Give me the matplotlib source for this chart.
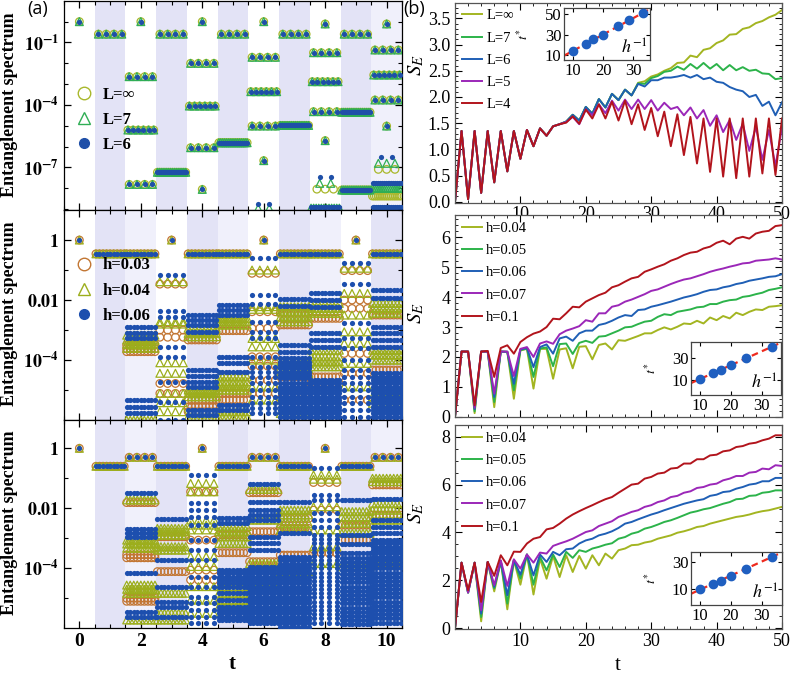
import numpy as np
import matplotlib
matplotlib.use("Agg")
import matplotlib.pyplot as plt
from matplotlib.lines import Line2D
from matplotlib.ticker import MultipleLocator, FixedLocator, NullFormatter, FormatStrFormatter

plt.rcParams['font.family'] = ['Liberation Serif', 'DejaVu Serif']
plt.rcParams['mathtext.fontset'] = 'stix'
plt.rcParams['axes.linewidth'] = 0.9

W, H = 792, 679
fig = plt.figure(figsize=(W / 100, H / 100), dpi=100)


def ax_px(x0, y0, x1, y1):
    return fig.add_axes([x0 / W, 1 - y1 / H, (x1 - x0) / W, (y1 - y0) / H])


# ------------------------------------------------------------------ data (a)
T_STEPS = list(range(11))

# panel (a) top: log10 of eigenvalue, multiplicity ; shared by all L
A1_SHARED = [
    [(0.0, 1)],
    [(-0.60, 4)],
    [(0.0, 1), (-2.64, 4), (-5.20, 6), (-7.81, 4)],
    [(-0.60, 4), (-7.23, 16)],
    [(0.0, 1), (-2.00, 4), (-4.05, 6), (-6.05, 4), (-8.05, 1)],
    [(-0.60, 4), (-5.81, 16)],
    [(0.0, 1), (-1.71, 4), (-3.36, 6), (-5.01, 4), (-6.67, 1)],
    [(-0.60, 4), (-4.98, 16)],
    [(-0.11, 1), (-1.49, 4), (-2.88, 6), (-4.32, 4), (-5.71, 1)],
    [(-0.60, 4), (-4.35, 16), (-8.08, 16)],
    [(-0.11, 1), (-1.36, 4), (-2.56, 6), (-3.76, 4), (-5.01, 1)],
]
A1_EXTRA_INF = {8: [(-8.04, 3)], 10: [(-7.09, 3), (-8.37, 16)]}
A1_EXTRA_L7 = {6: [(-8.96, 2)], 8: [(-7.76, 2), (-8.95, 12)], 10: [(-6.80, 3), (-8.00, 16)]}
A1_EXTRA_L6 = {6: [(-8.75, 2)], 8: [(-7.47, 2), (-8.88, 12)], 10: [(-6.48, 2), (-7.73, 16), (-8.91, 16)]}
A1_LABELS = ['L=∞', 'L=7', 'L=6']
A1_SHADE = 'wswswswswsl'

# panel (a) middle
A2_TOP_EXP = [0.0, -0.46, -0.46, 0.0, -0.46, -0.46, 0.0, -0.46, -0.46, 0.0, -0.46]
A2_TOP_N = [1, 9, 9, 1, 9, 9, 1, 9, 9, 1, 9]
A2_ROW_N = [4, 9, 9, 4, 9, 9, 4, 9, 9, 4, 9]
A2_H003 = [[], [], [-3.50, -3.62, -3.72],
           [-1.47, -3.00, -3.24, -4.78, -5.11],
           [-3.33, -5.33, -5.56, -5.72],
           [-3.02, -5.11, -5.33],
           [-1.11, -2.39, -2.94, -3.89, -4.20, -4.67, -5.11],
           [-2.44, -2.83, -4.56, -4.89, -5.33],
           [-2.61, -4.56, -4.78],
           [-1.02, -2.00, -2.28, -3.78, -4.44, -5.33],
           [-2.50, -4.33, -4.67]]
A2_H004 = [[], [], [-3.17, -3.33, -3.47, -3.61, -6.00],
           [-1.39, -2.72, -2.80, -4.09, -4.44, -5.11, -5.42, -5.72],
           [-2.94, -3.11, -3.22, -5.00, -5.11, -5.22, -5.89],
           [-2.61, -2.72, -2.83, -4.56, -4.72, -4.89, -5.00, -5.72, -5.89],
           [-1.00, -2.22, -2.31, -3.28, -3.56, -4.00, -4.89, -5.33],
           [-2.22, -2.39, -2.56, -2.72, -4.11, -4.28, -4.44, -5.78],
           [-2.11, -2.28, -2.44, -3.67, -3.89, -4.06, -4.22],
           [-0.94, -1.78, -2.50, -3.06, -3.44, -4.11, -4.89],
           [-2.11, -2.28, -2.44, -3.67, -3.83, -4.00, -5.22, -5.44]]
A2_H006 = [[], [], [-2.89, -3.11, -3.28, -5.33, -5.56, -5.78],
           [-1.17, -2.36, -2.56, -3.56, -3.89, -4.72, -5.39, -6.00],
           [-2.50, -2.67, -2.83, -3.06, -4.33, -4.53, -4.72, -4.89, -5.67, -5.83],
           [-2.17, -2.33, -2.50, -3.89, -4.11, -4.39, -5.50, -5.67],
           [-0.61, -1.83, -2.14, -2.72, -3.06, -3.28, -3.89, -4.22, -4.39, -4.56,
            -4.78, -5.00, -5.22, -5.44, -5.61, -5.78],
           [-1.98, -2.20, -3.50, -3.72, -3.94, -4.06, -4.17, -4.28, -4.39, -4.50,
            -4.61, -4.75, -4.89, -5.00, -5.11, -5.22, -5.33, -5.44, -5.56, -5.67,
            -5.78, -5.89],
           [-1.76, -2.00, -2.24, -3.11, -3.33, -3.56, -4.67, -4.78, -4.89, -5.00,
            -5.11, -5.22, -5.33, -5.44, -5.56, -5.67, -5.78, -5.89],
           [-0.76, -1.47, -2.78, -3.28, -3.61, -4.00, -4.33, -4.56, -4.78, -5.00,
            -5.22, -5.44, -5.67, -5.89],
           [-1.67, -1.94, -2.89, -3.11, -3.33, -3.56, -4.44, -4.56, -4.67, -4.78,
            -4.89, -5.00, -5.11, -5.22, -5.33, -5.44, -5.56, -5.67, -5.78, -5.89]]
A2_LABELS = ['h=0.03', 'h=0.04', 'h=0.06']
A2_SHADE = 'wslwslwslws'

# panel (a) bottom
A3_TOP_EXP = [0.0, -0.60, -0.30, -0.60, 0.0, -0.60, -0.30, -0.60, 0.0, -0.60, -0.30]
A3_TOP_N = [1, 9, 4, 9, 1, 9, 4, 9, 1, 9, 4]
A3_ROW_N = [4, 9, 9, 9, 4, 9, 9, 9, 4, 9, 9]
A3_H003 = [[], [], [-1.81, -3.55, -3.65, -5.00, -5.10],
           [-2.95, -4.11],
           [-1.45, -3.06, -4.06, -4.39],
           [-2.89, -3.48],
           [-1.48, -2.78, -3.78],
           [-2.34, -2.67, -3.56],
           [-1.14, -2.06, -3.50],
           [-2.56, -3.06],
           [-1.22, -2.23, -3.84]]
A3_H004 = [[], [], [-1.72, -3.06, -3.19, -3.33, -4.56, -4.70, -4.83, -5.72],
           [-2.67, -2.78, -2.89, -3.28, -3.39, -4.83, -5.50, -5.72],
           [-1.17, -1.45, -2.39, -2.56, -2.72, -3.61, -3.94, -4.61, -5.06, -5.50],
           [-2.61, -2.78, -2.94, -3.17, -4.61, -4.83, -5.06, -5.28],
           [-1.37, -2.39, -3.84, -4.56],
           [-2.06, -2.22, -2.50, -2.72, -4.11],
           [-0.89, -1.03, -1.95, -2.72, -3.28, -3.84],
           [-2.11, -2.28, -2.50, -2.83, -3.95],
           [-1.00, -1.11, -1.83, -2.06, -2.39, -3.84]]
A3_H006 = [[], [], [-1.48, -2.70, -2.83, -2.94, -4.17, -5.45, -5.61],
           [-2.37, -3.72, -4.61, -5.11, -5.28, -5.61],
           [-0.89, -1.83, -2.06, -2.28, -2.56, -3.06, -3.39, -3.72, -4.28, -4.61,
            -4.94, -5.17, -5.39, -5.61, -5.83],
           [-2.33, -2.50, -4.06, -4.17, -4.28, -4.39, -4.50, -4.61, -4.83, -5.06,
            -5.28, -5.39, -5.50, -5.61, -5.72],
           [-1.19, -1.78, -2.06, -2.22, -2.39, -2.94, -3.17, -3.39, -3.95, -4.06,
            -4.17, -4.28, -4.39, -4.50, -4.61, -4.72, -4.83, -4.94, -5.06, -5.17,
            -5.28, -5.39, -5.50, -5.61, -5.72, -5.83],
           [-1.78, -2.83, -3.61, -3.72, -3.84, -3.95, -4.06, -4.17, -4.28, -4.39,
            -4.50, -4.61, -4.72, -4.83, -4.94, -5.06, -5.17, -5.28, -5.39, -5.50,
            -5.61, -5.72, -5.83, -5.94],
           [-0.67, -1.56, -1.72, -2.17, -2.39, -2.61, -2.89, -3.03, -3.17, -3.31,
            -3.45, -3.58, -3.72, -3.86, -4.00, -4.14, -4.28, -4.42, -4.56, -4.70,
            -4.83, -4.97, -5.11, -5.25, -5.39, -5.53, -5.67, -5.81],
           [-1.72, -2.90, -3.20, -3.50, -3.64, -3.78, -3.92, -4.06, -4.20, -4.33,
            -4.47, -4.61, -4.75, -4.89, -5.03, -5.17, -5.31, -5.45, -5.59, -5.72,
            -5.86],
           [-1.70, -2.39, -2.61, -2.83, -3.06, -3.17, -3.28, -3.39, -3.50, -3.61,
            -3.72, -3.86, -4.00, -4.14, -4.28, -4.42, -4.56, -4.70, -4.83, -4.97,
            -5.11, -5.25, -5.39, -5.53, -5.67, -5.81]]
A3_SHADE = 'wslswslswsl'

# ------------------------------------------------------------------ data (b)
T_B = list(range(51))
B1_BASE = [0, 1.35, 0.05, 1.35, 0.17, 1.35, 0.37, 1.35, 0.58, 1.35, 0.82, 1.37, 1.06,
           1.40, 1.26, 1.44, 1.48]
B1_L4 = B1_BASE + [1.51, 1.63, 1.49, 1.76, 1.59, 1.86, 1.59, 1.91, 1.55, 1.93, 1.48, 1.86,
                   1.37, 1.79, 1.25, 1.72, 1.06, 1.67, 0.89, 1.62, 0.73, 1.59, 0.57, 1.59,
                   0.48, 1.59, 0.45, 1.59, 0.48, 1.59, 0.54, 1.59, 0.51, 1.59]
B1_L5 = B1_BASE + [1.52, 1.62, 1.48, 1.76, 1.65, 1.86, 1.69, 1.93, 1.74, 1.95, 1.77, 1.95,
                   1.77, 1.94, 1.74, 1.89, 1.77, 1.81, 1.65, 1.80, 1.59, 1.75, 1.45, 1.65,
                   1.33, 1.56, 1.18, 1.49, 0.97, 1.43, 0.80, 1.37, 0.68, 1.42]
B1_L6 = B1_BASE + [1.53, 1.66, 1.55, 1.81, 1.68, 1.96, 1.80, 2.06, 1.94, 2.14, 2.03, 2.25,
                   2.20, 2.32, 2.32, 2.37, 2.37, 2.39, 2.42, 2.37, 2.42, 2.34, 2.37, 2.29,
                   2.27, 2.19, 2.14, 2.11, 2.00, 2.04, 1.83, 1.91, 1.65, 1.90]
B1_L7 = B1_L6[:28] + [2.26, 2.25, 2.36, 2.40, 2.48, 2.50, 2.58, 2.52, 2.63, 2.54, 2.65,
                      2.54, 2.63, 2.51, 2.61, 2.51, 2.57, 2.50, 2.52, 2.45, 2.44, 2.34, 2.36]
B1_LINF = B1_L6[:28] + [2.27, 2.30, 2.39, 2.43, 2.50, 2.55, 2.65, 2.66, 2.79, 2.76, 2.90,
                        2.93, 3.03, 3.08, 3.19, 3.20, 3.30, 3.33, 3.41, 3.45, 3.52, 3.57, 3.66]
B1_LABELS = ['L=∞', 'L=7', 'L=6', 'L=5', 'L=4']

B2_H04 = [0, 2.18, 2.18, 0.12, 2.18, 2.18, 0.32, 2.18, 2.17, 0.60, 2.22, 2.27, 0.94, 2.27,
          2.27, 1.27, 2.25, 2.29, 1.62, 2.34, 2.36, 1.92, 2.40, 2.45, 2.25, 2.56, 2.54, 2.62,
          2.70, 2.79, 2.79, 2.90, 2.99, 2.92, 3.01, 3.12, 3.10, 3.21, 3.12, 3.32, 3.23, 3.37,
          3.29, 3.48, 3.40, 3.51, 3.59, 3.57, 3.68, 3.70, 3.73]
B2_H05 = [0, 2.18, 2.18, 0.18, 2.18, 2.18, 0.49, 2.18, 2.17, 0.88, 2.23, 2.28, 1.33, 2.28,
          2.32, 1.69, 2.43, 2.45, 2.10, 2.47, 2.54, 2.47, 2.68, 2.70, 2.79, 2.88, 2.99, 3.01,
          3.10, 3.18, 3.21, 3.34, 3.43, 3.40, 3.51, 3.55, 3.59, 3.66, 3.68, 3.77, 3.77, 3.85,
          3.90, 3.92, 4.01, 4.04, 4.10, 4.15, 4.24, 4.28, 4.33]
B2_H06 = [0, 2.18, 2.18, 0.25, 2.18, 2.18, 0.66, 2.18, 2.17, 1.10, 2.25, 2.30, 1.66, 2.33,
          2.42, 2.11, 2.62, 2.68, 2.54, 2.79, 2.88, 2.88, 3.07, 3.12, 3.21, 3.32, 3.40, 3.37,
          3.57, 3.59, 3.68, 3.73, 3.79, 3.85, 3.92, 3.99, 4.04, 4.10, 4.18, 4.24, 4.26, 4.33,
          4.37, 4.44, 4.48, 4.55, 4.59, 4.63, 4.68, 4.70, 4.77]
B2_H07 = [0, 2.18, 2.18, 0.30, 2.18, 2.18, 0.77, 2.18, 2.18, 1.36, 2.27, 2.33, 2.00, 2.45,
          2.52, 2.44, 2.76, 2.88, 2.95, 3.03, 3.23, 3.18, 3.46, 3.46, 3.68, 3.73, 3.85, 3.92,
          4.01, 4.10, 4.21, 4.26, 4.35, 4.44, 4.52, 4.59, 4.63, 4.70, 4.77, 4.85, 4.91, 4.96,
          5.02, 5.07, 5.13, 5.15, 5.22, 5.24, 5.26, 5.30, 5.26]
B2_H10 = [0, 2.18, 2.18, 0.38, 2.18, 2.20, 1.33, 2.30, 2.39, 2.11, 2.50, 2.66, 2.78, 2.85,
          3.00, 3.28, 3.26, 3.46, 3.68, 3.66, 3.85, 3.96, 4.07, 4.15, 4.33, 4.40, 4.52, 4.63,
          4.68, 4.85, 4.93, 5.02, 5.10, 5.22, 5.30, 5.41, 5.49, 5.52, 5.63, 5.69, 5.82, 5.89,
          5.77, 5.96, 6.02, 5.96, 6.13, 6.19, 6.22, 6.38, 6.41]

B3_H04 = [0, 2.74, 1.49, 2.74, 0.29, 2.77, 1.54, 2.80, 0.79, 2.84, 1.82, 3.08, 1.41, 2.91,
          2.07, 3.02, 2.14, 3.05, 2.35, 3.02, 2.49, 3.05, 2.63, 3.12, 2.91, 3.26, 3.33, 3.47,
          3.49, 3.58, 3.63, 3.74, 3.81, 3.88, 3.99, 4.05, 4.13, 4.23, 4.27, 4.37, 4.44, 4.51,
          4.58, 4.65, 4.69, 4.75, 4.83, 4.89, 4.93, 5.00, 5.07]
B3_H05 = [0, 2.74, 1.49, 2.74, 0.47, 2.77, 1.66, 2.80, 1.03, 2.84, 2.07, 3.08, 1.82, 2.98,
          2.42, 3.08, 2.56, 3.19, 2.94, 3.26, 3.19, 3.33, 3.40, 3.49, 3.55, 3.74, 3.81, 3.95,
          4.02, 4.16, 4.23, 4.33, 4.44, 4.51, 4.61, 4.72, 4.83, 4.89, 4.97, 5.02, 5.11, 5.20,
          5.27, 5.39, 5.41, 5.53, 5.55, 5.66, 5.69, 5.76, 5.76]
B3_H06 = [0, 2.74, 1.49, 2.74, 0.61, 2.77, 1.73, 2.80, 1.38, 2.84, 2.24, 3.08, 2.21, 3.08,
          2.77, 3.19, 3.05, 3.30, 3.33, 3.54, 3.67, 3.74, 3.88, 3.95, 4.05, 4.19, 4.37, 4.44,
          4.55, 4.65, 4.75, 4.83, 4.93, 5.02, 5.11, 5.20, 5.27, 5.34, 5.39, 5.53, 5.58, 5.69,
          5.72, 5.83, 5.90, 6.00, 6.04, 6.14, 6.14, 6.28, 6.28]
B3_H07 = [0, 2.74, 1.49, 2.74, 0.75, 2.77, 1.80, 2.84, 1.77, 2.88, 2.49, 3.08, 2.74, 3.16,
          3.12, 3.44, 3.54, 3.63, 3.74, 3.88, 4.02, 4.09, 4.27, 4.37, 4.47, 4.65, 4.75, 4.86,
          4.93, 5.07, 5.14, 5.27, 5.34, 5.48, 5.53, 5.66, 5.72, 5.86, 5.90, 6.00, 6.04, 6.18,
          6.25, 6.36, 6.36, 6.50, 6.53, 6.67, 6.64, 6.81, 6.78]
B3_H10 = [0, 2.74, 1.59, 2.74, 1.10, 2.77, 2.19, 3.05, 2.63, 3.20, 3.19, 3.54, 3.74, 3.81,
          4.13, 4.19, 4.37, 4.58, 4.75, 4.89, 5.02, 5.14, 5.27, 5.39, 5.48, 5.66, 5.83, 6.00,
          6.04, 6.25, 6.32, 6.46, 6.50, 6.67, 6.70, 6.88, 6.88, 7.06, 7.06, 7.22, 7.25, 7.39,
          7.43, 7.57, 7.61, 7.71, 7.75, 7.85, 7.92, 8.06, 8.06]
B_H_LABELS = ['h=0.04', 'h=0.05', 'h=0.06', 'h=0.07', 'h=0.1']

# insets: h^-1 vs t*
INS1_X = [10, 14.3, 16.7, 20, 25, 28.6, 33.3]
INS1_Y = [14, 21, 25.5, 30.3, 38.9, 44, 51]
INS2_X = [10, 14.3, 16.7, 20, 25, 33.3]
INS2_Y = [10.6, 16, 19, 23.5, 30, 39.3]
INS3_X = [10, 14.3, 16.7, 20, 25, 33.3]
INS3_Y = [10.0, 13.9, 16.3, 19.9, 24.7, 33.6]

# ------------------------------------------------------------------ styles
C_SHADE = {'w': None, 's': '#e3e3f6', 'l': '#f0f0fb'}
A1_COL = ['#a9b82c', '#2fae55', '#1f4fa8']
A23_COL = ['#c27633', '#9cae1c', '#1d4fae']
B_COL = ['#a3b521', '#2cb34a', '#1f5fb5', '#9b27b8', '#b2141c']


def spread(t, n):
    if n == 1:
        return [t]
    if n <= 3:
        w = 0.09 * n
    elif n == 4:
        w = 0.38
    elif n <= 6:
        w = 0.42
    else:
        w = 0.46
    return list(t + np.linspace(-w, w, n))


def collect(rows_by_t):
    xs, ys = [], []
    for t, rows in zip(T_STEPS, rows_by_t):
        for e, n in rows:
            px = spread(t, n)
            xs += px
            ys += [10.0 ** e] * len(px)
    return xs, ys


def rows_for(top_e, top_n, row_n, series):
    return [[(top_e[t], top_n[t])] + [(e, row_n[t]) for e in series[t]] for t in T_STEPS]


def draw_series(ax, rows_by_t, kind, color):
    xs, ys = collect(rows_by_t)
    if kind == 'c':
        ax.scatter(xs, ys, marker='o', s=30, facecolors='none', edgecolors=color,
                   linewidths=0.9, zorder=3)
    elif kind == 't':
        ax.scatter(xs, ys, marker='^', s=32, facecolors='none', edgecolors=color,
                   linewidths=0.9, zorder=4)
    else:
        ax.scatter(xs, ys, marker='o', s=14, c=color, linewidths=0, zorder=5)


def setup_left(ax, shade, ylim, majors, labels, xlabels):
    for t, s in zip(T_STEPS, shade):
        if C_SHADE[s]:
            ax.axvspan(t - 0.5, t + 0.5, color=C_SHADE[s], lw=0, zorder=0)
    ax.set_xlim(-0.5, 10.5)
    ax.set_yscale('log')
    ax.set_ylim(*ylim)
    ax.xaxis.set_major_locator(FixedLocator([0, 2, 4, 6, 8, 10]))
    ax.xaxis.set_minor_locator(MultipleLocator(0.5))
    ax.yaxis.set_major_locator(FixedLocator(majors))
    ax.yaxis.set_minor_locator(FixedLocator([10.0 ** k for k in range(-10, 2)]))
    ax.yaxis.set_minor_formatter(NullFormatter())
    ax.set_yticklabels(labels)
    ax.tick_params(which='both', direction='in', top=True, right=True)
    ax.tick_params(which='major', length=5, width=0.9)
    ax.tick_params(which='minor', length=3, width=0.8)
    ax.tick_params(axis='y', labelsize=13)
    if xlabels:
        ax.set_xticklabels(['0', '2', '4', '6', '8', '10'], fontsize=14, fontweight='bold')
    else:
        ax.tick_params(axis='x', labelbottom=False)
    for lab in ax.get_yticklabels():
        lab.set_fontweight('bold')


# ------------------------------------------------------------------ panel (a)
axA1 = ax_px(64, 1, 402, 210)
setup_left(axA1, A1_SHADE, (10 ** -9.04, 10 ** 0.99), [1e-1, 1e-4, 1e-7],
           [r'$\mathbf{10^{-1}}$', r'$\mathbf{10^{-4}}$', r'$\mathbf{10^{-7}}$'], False)
for extra, kind, col in [(A1_EXTRA_INF, 'c', A1_COL[0]), (A1_EXTRA_L7, 't', A1_COL[1]),
                         (A1_EXTRA_L6, 'd', A1_COL[2])]:
    rows = [A1_SHARED[t] + extra.get(t, []) for t in T_STEPS]
    draw_series(axA1, rows, kind, col)
h1 = [Line2D([], [], ls='none', marker='o', mfc='none', mec=A1_COL[0], ms=9, mew=1.0),
      Line2D([], [], ls='none', marker='^', mfc='none', mec=A1_COL[1], ms=9, mew=1.0),
      Line2D([], [], ls='none', marker='o', color=A1_COL[2], ms=7)]
axA1.legend(h1, A1_LABELS, loc='center left', bbox_to_anchor=(0.0, 0.43), frameon=False,
            prop=dict(weight='bold', size=12), handletextpad=0.5, labelspacing=0.55,
            borderaxespad=0.2, handlelength=1.2)

axA2 = ax_px(64, 210, 402, 419.5)
setup_left(axA2, A2_SHADE, (10 ** -5.98, 10 ** 1.0), [1, 1e-2, 1e-4, 1e-6],
           [r'$\mathbf{1}$', r'$\mathbf{0.01}$', r'$\mathbf{10^{-4}}$', r'$\mathbf{10^{-6}}$'],
           False)
for ser, kind, col in [(A2_H003, 'c', A23_COL[0]), (A2_H004, 't', A23_COL[1]),
                       (A2_H006, 'd', A23_COL[2])]:
    draw_series(axA2, rows_for(A2_TOP_EXP, A2_TOP_N, A2_ROW_N, ser), kind, col)
h2 = [Line2D([], [], ls='none', marker='o', mfc='none', mec=A23_COL[0], ms=9, mew=1.0),
      Line2D([], [], ls='none', marker='^', mfc='none', mec=A23_COL[1], ms=9, mew=1.0),
      Line2D([], [], ls='none', marker='o', color=A23_COL[2], ms=7)]
axA2.legend(h2, A2_LABELS, loc='center left', bbox_to_anchor=(0.0, 0.615), frameon=False,
            prop=dict(weight='bold', size=12), handletextpad=0.5, labelspacing=0.55,
            borderaxespad=0.2, handlelength=1.2)

axA3 = ax_px(64, 419.5, 402, 628)
setup_left(axA3, A3_SHADE, (10 ** -5.99, 10 ** 0.96), [1, 1e-2, 1e-4, 1e-6],
           [r'$\mathbf{1}$', r'$\mathbf{0.01}$', r'$\mathbf{10^{-4}}$', r'$\mathbf{10^{-6}}$'],
           True)
for ser, kind, col in [(A3_H003, 'c', A23_COL[0]), (A3_H004, 't', A23_COL[1]),
                       (A3_H006, 'd', A23_COL[2])]:
    draw_series(axA3, rows_for(A3_TOP_EXP, A3_TOP_N, A3_ROW_N, ser), kind, col)

for yc in (105, 314, 523):
    fig.text(10 / W, 1 - yc / H, 'Entanglement spectrum', rotation=90, ha='center',
             va='center', fontsize=13, fontweight='bold')
fig.text(232 / W, 1 - 664 / H, 't', ha='center', va='center', fontsize=15, fontweight='bold')


# ------------------------------------------------------------------ panel (b)
def setup_right(ax, ylim, major, minor, xlabels, pad=3.5):
    ax.set_xlim(0, 50)
    ax.set_ylim(*ylim)
    ax.xaxis.set_major_locator(FixedLocator([10, 20, 30, 40, 50]))
    ax.xaxis.set_minor_locator(MultipleLocator(2))
    ax.yaxis.set_major_locator(MultipleLocator(major))
    ax.yaxis.set_minor_locator(MultipleLocator(minor))
    ax.tick_params(which='both', direction='in', top=True, right=True, labelsize=13)
    ax.tick_params(which='major', length=5)
    ax.tick_params(which='minor', length=2.5)
    ax.tick_params(axis='x', pad=pad)
    if not xlabels:
        ax.tick_params(axis='x', labelbottom=False)
    for sp in ax.spines.values():
        sp.set_color('#555555')


def inset(rect, xs, ys, xlim, ylim, yticks, lp):
    ax = ax_px(*rect)
    ax.set_xlim(*xlim)
    ax.set_ylim(*ylim)
    coef = np.polyfit(xs, ys, 1)
    xx = np.array(xlim)
    ax.plot(xx, np.polyval(coef, xx), ls=(0, (3, 2)), color='#ee2a1e', lw=1.6, zorder=2)
    ax.plot(xs, ys, 'o', color='#1f5fc0', ms=6, zorder=3)
    ax.set_xticks([10, 20, 30])
    ax.set_yticks(yticks)
    ax.tick_params(direction='in', labelsize=12, length=3, top=True, right=True, pad=2)
    ax.set_ylabel('$t^{*}$', fontsize=10, labelpad=lp)
    ax.text(0.97, 0.05, '$h^{-1}$', transform=ax.transAxes, ha='right', va='bottom',
            fontsize=13)
    for sp in ax.spines.values():
        sp.set_color('#444444')
    return ax


LEG = dict(loc='upper left', frameon=False, fontsize=10.5, handlelength=1.4,
           handletextpad=0.3, labelspacing=0.62, borderaxespad=0.1, borderpad=0.35)

axB1 = ax_px(455, 2.7, 782, 203.3)
setup_right(axB1, (-0.03, 3.80), 0.5, 0.1, True, pad=2)
axB1.yaxis.set_major_formatter(FormatStrFormatter('%.1f'))
for ys, col, lab in zip([B1_LINF, B1_L7, B1_L6, B1_L5, B1_L4], B_COL, B1_LABELS):
    axB1.plot(T_B, ys, color=col, lw=1.4, label=lab)
axB1.legend(**LEG)
inset((564, 8, 650, 60), INS1_X, INS1_Y, (7.1, 35.5), (5.6, 56), [10, 30, 50], 10)

axB2 = ax_px(455, 215, 782, 417.3)
setup_right(axB2, (-0.02, 6.75), 1, 0.2, False)
for ys, col, lab in zip([B2_H04, B2_H05, B2_H06, B2_H07, B2_H10], B_COL, B_H_LABELS):
    axB2.plot(T_B, ys, color=col, lw=1.4, label=lab)
axB2.legend(**LEG)
inset((691, 341.7, 781, 395), INS2_X, INS2_Y, (7.1, 36.3), (-3.5, 44.3), [10, 30], 9)

axB3 = ax_px(455, 425, 782, 628.5)
setup_right(axB3, (-0.01, 8.49), 2, 0.5, True)
for ys, col, lab in zip([B3_H04, B3_H05, B3_H06, B3_H07, B3_H10], B_COL, B_H_LABELS):
    axB3.plot(T_B, ys, color=col, lw=1.4, label=lab)
axB3.legend(**LEG)
inset((691, 551.7, 782, 605), INS3_X, INS3_Y, (7.1, 36.6), (-1.4, 37.2), [10, 30], 9)

for yc in (65, 313, 513):
    fig.text(416 / W, 1 - yc / H, '$S_E$', rotation=90, ha='center', va='center', fontsize=15)
fig.text(618 / W, 1 - 666 / H, 't', ha='center', va='center', fontsize=15)

fig.text(27 / W, 1 - 9 / H, '(a)', ha='left', va='center', fontsize=13,
         family=['Open Sans', 'DejaVu Sans'])
fig.text(403 / W, 1 - 9 / H, '(b)', ha='left', va='center', fontsize=13,
         family=['Open Sans', 'DejaVu Sans'])

fig.savefig('out.png', dpi=100)
